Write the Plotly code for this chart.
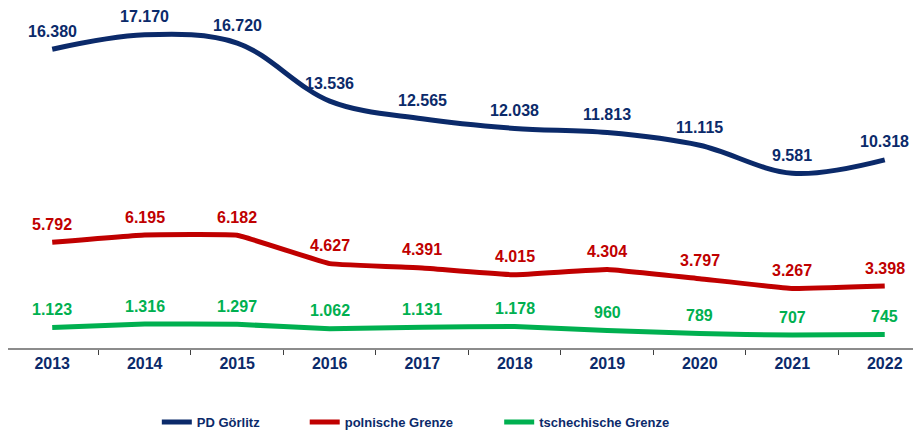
import plotly.graph_objects as go

years = ["2013", "2014", "2015", "2016", "2017", "2018", "2019", "2020", "2021", "2022"]
pd_goerlitz = [16380, 17170, 16720, 13536, 12565, 12038, 11813, 11115, 9581, 10318]
polnische = [5792, 6195, 6182, 4627, 4391, 4015, 4304, 3797, 3267, 3398]
tschechische = [1123, 1316, 1297, 1062, 1131, 1178, 960, 789, 707, 745]

series = [
    ("PD Görlitz", pd_goerlitz, "#0B2A6A", "spline", 1.0, "legend"),
    ("polnische Grenze", polnische, "#C00000", "spline", 0.25, "legend2"),
    ("tschechische Grenze", tschechische, "#00B050", "spline", 0.25, "legend3"),
]

FONT = "Liberation Sans, Arial"

def fmt(v):
    return "<b>" + f"{v:,}".replace(",", ".") + "</b>"

fig = go.Figure()
annotations = []
for name, vals, color, shape, smooth, leg in series:
    fig.add_trace(go.Scatter(
        x=years, y=vals, name="<b>" + name + "</b>", mode="lines",
        line=dict(color=color, width=5, shape=shape, smoothing=smooth),
        legend=leg, hoverinfo="skip",
    ))
    for i, v in enumerate(vals):
        annotations.append(dict(
            x=i, y=v, xref="x", yref="y", text=fmt(v), showarrow=False,
            yshift=18, font=dict(family=FONT, size=16, color=color),
        ))

legfont = dict(family=FONT, size=13, color="#0B2A6A")
def leg(x):
    return dict(orientation="h", x=x, y=-0.2176, xanchor="left", yanchor="middle",
                font=legfont, bgcolor="rgba(0,0,0,0)", itemwidth=30)

fig.update_layout(
    width=913, height=422,
    margin=dict(l=0, r=0, t=0, b=82, autoexpand=False),
    paper_bgcolor="white", plot_bgcolor="white",
    annotations=annotations,
    showlegend=True,
    legend=leg(0.163),
    legend2=leg(0.325),
    legend3=leg(0.538),
    xaxis=dict(
        type="category", range=[-0.478, 9.392], tickson="boundaries",
        showline=True, linecolor="#8C8C8C", linewidth=1.5,
        ticks="outside", ticklen=5, tickcolor="#404040", tickwidth=1,
        showgrid=False, zeroline=False, automargin=False,
        tickvals=years, ticktext=["<b>" + y + "</b>" for y in years],
        tickfont=dict(family=FONT, size=16, color="#0B2A6A"),
    ),
    yaxis=dict(range=[0, 18640], visible=False, showgrid=False, zeroline=False),
    font=dict(family=FONT),
)

fig.write_html("out.html")
